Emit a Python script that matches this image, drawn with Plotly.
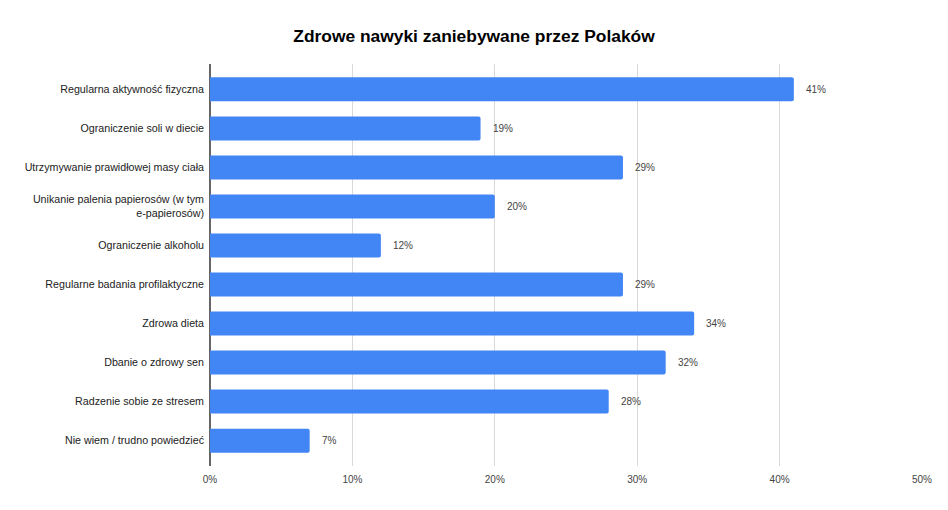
import plotly.graph_objects as go

# categories top to bottom as in the picture
categories = [
    "Regularna aktywność fizyczna",
    "Ograniczenie soli w diecie",
    "Utrzymywanie prawidłowej masy ciała",
    "Unikanie palenia papierosów (w tym<br>e-papierosów)",
    "Ograniczenie alkoholu",
    "Regularne badania profilaktyczne",
    "Zdrowa dieta",
    "Dbanie o zdrowy sen",
    "Radzenie sobie ze stresem",
    "Nie wiem / trudno powiedzieć",
]
values = [41, 19, 29, 20, 12, 29, 34, 32, 28, 7]
x_ticks = [0, 10, 20, 30, 40, 50]
x_tick_labels = ["0%", "10%", "20%", "30%", "40%", "50%"]

fig = go.Figure()
fig.add_trace(go.Bar(
    y=categories, x=values, orientation="h",
    marker=dict(color="#4285f4", line=dict(width=0), cornerradius=2),
    hoverinfo="x+y",
))

# value labels a little to the right of each bar end
for cat, v in zip(categories, values):
    fig.add_annotation(
        x=v, y=cat, text=f"{v}%", showarrow=False,
        xanchor="left", yanchor="middle", xshift=10,
        font=dict(size=10, color="#444444"),
    )

fig.update_layout(
    title=dict(text="<b>Zdrowe nawyki zaniebywane przez Polaków</b>",
               x=0.5, xanchor="center", y=0.929, yanchor="middle",
               font=dict(size=17.4, color="#000000")),
    width=948, height=510,
    margin=dict(l=210, r=26, t=64, b=44),
    paper_bgcolor="white", plot_bgcolor="white",
    font=dict(family="Liberation Sans, Arial, sans-serif", size=10.7, color="#222222"),
    bargap=0.385, showlegend=False,
)
fig.update_xaxes(
    range=[0, 50], tickvals=x_ticks, ticktext=x_tick_labels,
    showgrid=True, gridcolor="#d9d9d9", gridwidth=1,
    zeroline=True, zerolinecolor="#666666", zerolinewidth=1.5,
    tickfont=dict(size=10, color="#444444"), ticks="", automargin=False,
    ticklabelstandoff=6,
)
fig.update_yaxes(
    range=[9.65, -0.65], ticks="", ticklabelstandoff=5,
    tickfont=dict(size=10.7, color="#222222"), automargin=False,
)

fig.write_html("out.html", config={"displayModeBar": False},
               post_script="document.body.style.margin='0';")
